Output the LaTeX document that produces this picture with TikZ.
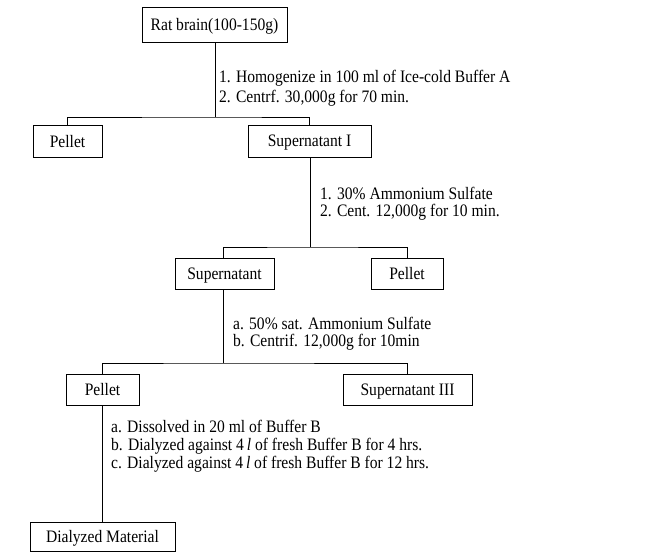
\documentclass[tikz,border=0pt]{standalone}
\usepackage{fontspec}
\setmainfont[FakeStretch=0.89]{Liberation Serif}
\usepackage{tikz}
\usetikzlibrary{positioning}
\tikzset{stage/.style = {draw, rectangle, line width = 0.9pt, inner sep = 0, text depth = 0pt, font = \fontsize{17.5}{18}\selectfont},
  steps/.style = {anchor = west, align = left, inner sep = 0, font = \fontsize{17.5}{17}\selectfont},
  link/.style = {line width = 0.8pt}}

\begin{document}
\begin{tikzpicture}[x=1pt, y=-1pt]
      \useasboundingbox (0, 0) rectangle (647, 552);

      \node [stage, minimum width = 145, minimum height = 35] (rat) at (214.5, 24.5) {Rat brain(100-150g)};
      \node [stage, minimum width = 69, minimum height = 32] (pelletA) at (67.5, 141) {Pellet};
      \node [stage, minimum width = 123, minimum height = 32] (supI) at (309.5, 141) {Supernatant I};
      \node [stage, minimum width = 99, minimum height = 31] (sup) at (224.5, 273.5) {Supernatant};
      \node [stage, minimum width = 72, minimum height = 31] (pelletB) at (407, 273.5) {Pellet};
      \node [stage, minimum width = 73, minimum height = 31] (pelletC) at (102.5, 389.5) {Pellet};
      \node [stage, minimum width = 129, minimum height = 31] (supIII) at (407.5, 389.5) {Supernatant III};
      \node [stage, minimum width = 145, minimum height = 29] (dial) at (102.5, 536.5) {Dialyzed Material};

      \coordinate (split1) at (215, 117);
      \coordinate (split2) at (310, 247);
      \coordinate (split3) at (223, 363);

      \draw [link] (rat.south -| split1) -- (split1);
      \draw [link] (pelletA.north) |- (split1) -| (supI.north);
      \draw [link] (supI.south -| split2) -- (split2);
      \draw [link] (sup.north -| split3) |- (split2) -| (pelletB.north);
      \draw [link] (sup.south -| split3) -- (split3);
      \draw [link] (pelletC.north) |- (split3) -| (supIII.north);
      \draw [link] (pelletC.south) -- (dial.north);

      \node [steps, font = \fontsize{17.5}{20}\selectfont] (homog) at (219, 88)
        {1. Homogenize in 100 ml of Ice-cold Buffer A\\2. Centrf. 30,000g for 70 min.};
      \node [steps] (salt30) at (320, 203.5)
        {1. 30\% Ammonium Sulfate\\2. Cent. 12,000g for 10 min.};
      \node [steps] (salt50) at (233, 333.5)
        {a. 50\% sat. Ammonium Sulfate\\b. Centrif. 12,000g for 10min};
      \node [steps, font = \fontsize{17.5}{18}\selectfont] (dialysis) at (111, 446)
        {a. Dissolved in 20 ml of Buffer B\\b. Dialyzed against 4\,\textit{l} of fresh Buffer B for 4 hrs.\\c. Dialyzed against 4\,\textit{l} of fresh Buffer B for 12 hrs.};
    \end{tikzpicture}
\end{document}
